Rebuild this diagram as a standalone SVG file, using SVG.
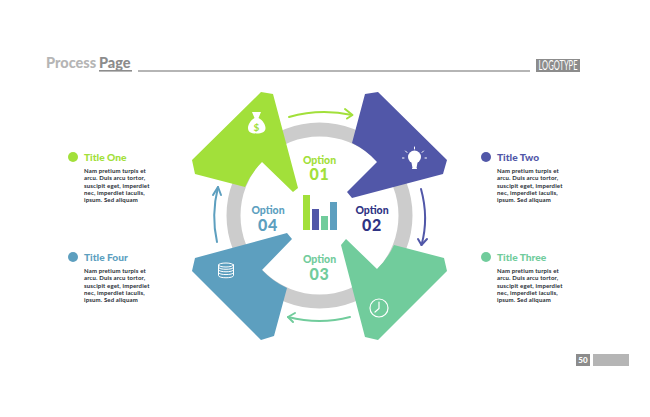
<svg xmlns="http://www.w3.org/2000/svg" width="650" height="417" viewBox="0 0 650 417">
<style>
text{font-family:Lato,"Open Sans","Liberation Sans",sans-serif}
.opt{font-size:10.5px;font-weight:900;text-anchor:middle}
.num{font-size:16px;font-weight:900;text-anchor:middle;letter-spacing:.8px}
.ttl{font-size:10.2px;font-weight:900}
.body{font-size:6px;font-weight:700;fill:#262b33;letter-spacing:.15px}
.arc{fill:none;stroke-width:2;stroke-linecap:round;stroke-linejoin:round}
.ico{fill:none;stroke:#fff;stroke-linecap:round}
</style>
<rect width="650" height="417" fill="#fff"/>
<g id="header">
<text x="46" y="68" font-size="14.5" font-weight="900" fill="#b5b5b5">Process</text>
<text x="99" y="68" font-size="14.5" font-weight="900" fill="#8c8c8c">Page</text>
<rect x="99" y="70" width="33" height="1.6" fill="#8c8c8c"/>
<rect x="138" y="70" width="392" height="2" fill="#b5b5b5"/>
<rect x="536" y="59" width="44" height="13" fill="#8c8c8c"/>
<text x="558" y="70" font-size="12.500" font-family="'Liberation Sans Narrow','Liberation Sans',sans-serif" fill="#fff" text-anchor="middle" textLength="39" lengthAdjust="spacingAndGlyphs">LOGOTYPE</text>
</g>
<g id="ring"><circle cx="319.500" cy="215.500" r="86" fill="none" stroke="#cccccc" stroke-width="14"/></g>
<g id="connectors">
<g class="arc" stroke="#a2e03a"><path d="M289 117Q320 108 352 115"/><path d="M345 109L352.500 115L347 118.500"/></g>
<g class="arc" stroke="#5157a8"><path d="M421 189Q429 218 421.500 245"/><path d="M418 239L421.500 245L427 239"/></g>
<g class="arc" stroke="#71cc9c"><path d="M350 317Q320 325 288 317"/><path d="M295 313L288 317L293 322"/></g>
<g class="arc" stroke="#5d9fbf"><path d="M217 242Q211 215 218 187"/><path d="M213 195L218 187L221 195"/></g>
</g>
<g id="node-1">
<path d="M261 92L273 94L298 188L293 192L262 162A79 79 0 0 0 245 187L195 174L192 160Z" fill="#a2e03a"/>
<path d="M252 112L261 112L258.500 118C263 120 265.500 125 265.500 128C265.500 132 262 133.500 256.500 133.500C251 133.500 248 132 248 128C248 125 250.500 120 254.500 118Z" fill="#fff"/>
<text x="256.500" y="130.500" font-size="10" font-weight="700" fill="#a2e03a" text-anchor="middle">$</text>
<text class="opt" x="319.500" y="163.500" fill="#a2e03a">Option</text>
<text class="num" x="319.500" y="180" fill="#a2e03a">01</text>
</g>
<g id="node-2">
<path d="M365 94L378 92L447 160L443 174L352 198L347 192L377 162A79 79 0 0 0 352 143Z" fill="#5157a8"/>
<circle cx="414.500" cy="157" r="6.500" fill="#fff"/>
<path d="M411.500 162.500H417.500L416.500 168H412.500Z" fill="#fff"/>
<path class="ico" d="M414.500 147V149M405.500 151L407 152.500M423.500 151L422 152.500M404 158H402.500M425 158H426.500M412.500 168.500H416.500" stroke-width="1"/>
<text class="opt" x="372" y="214" fill="#2f3384">Option</text>
<text class="num" x="372" y="231" fill="#2f3384">02</text>
</g>
<g id="node-3">
<path d="M346 239L377 269A79 79 0 0 0 394 245L444 258L447 271L378 340L365 337L341 245Z" fill="#71cc9c"/>
<circle cx="379" cy="308" r="9" class="ico" stroke-width="1.200"/>
<path class="ico" d="M379 302V308.500L375 312" stroke-width="1.200"/>
<text class="opt" x="319.500" y="263" fill="#71cc9c">Option</text>
<text class="num" x="319.500" y="280" fill="#71cc9c">03</text>
</g>
<g id="node-4">
<path d="M287 233L292 239L262 270A79 79 0 0 0 287 288L274 336L261 340L192 271L195 258Z" fill="#5d9fbf"/>
<g class="ico" stroke-width="1"><ellipse cx="226" cy="265" rx="7.500" ry="2"/><path d="M218.500 265V275.500C218.500 278.500 233.500 278.500 233.500 275.500V265M218.500 267.500C218.500 270 233.500 270 233.500 267.500M218.500 270C218.500 272.500 233.500 272.500 233.500 270M218.500 272.800C218.500 275.300 233.500 275.300 233.500 272.800"/></g>
<text class="opt" x="268" y="214" fill="#5d9fbf">Option</text>
<text class="num" x="268" y="231" fill="#5d9fbf">04</text>
</g>
<g id="chart">
<rect x="303" y="195" width="7" height="35" fill="#a2e03a"/>
<rect x="312" y="209" width="7" height="21" fill="#5157a8"/>
<rect x="321" y="216" width="7" height="14" fill="#71cc9c"/>
<rect x="330" y="202" width="7" height="28" fill="#5d9fbf"/>
</g>
<g id="title-one">
<circle cx="73" cy="157" r="5" fill="#a2e03a"/>
<text class="ttl" x="84" y="161" fill="#a2e03a">Title One</text>
<text class="body"><tspan x="84" y="173">Nam pretium turpis et</tspan><tspan x="84" y="180.250">arcu. Duis arcu tortor,</tspan><tspan x="84" y="187.500">suscipit eget, imperdiet</tspan><tspan x="84" y="194.750">nec, imperdiet iaculis,</tspan><tspan x="84" y="202">ipsum. Sed aliquam</tspan></text>
</g>
<g id="title-two">
<circle cx="486" cy="157" r="5" fill="#5157a8"/>
<text class="ttl" x="497" y="161" fill="#5157a8">Title Two</text>
<text class="body"><tspan x="497" y="173">Nam pretium turpis et</tspan><tspan x="497" y="180.250">arcu. Duis arcu tortor,</tspan><tspan x="497" y="187.500">suscipit eget, imperdiet</tspan><tspan x="497" y="194.750">nec, imperdiet iaculis,</tspan><tspan x="497" y="202">ipsum. Sed aliquam</tspan></text>
</g>
<g id="title-three">
<circle cx="486" cy="257" r="5" fill="#71cc9c"/>
<text class="ttl" x="497" y="261" fill="#71cc9c">Title Three</text>
<text class="body"><tspan x="497" y="273">Nam pretium turpis et</tspan><tspan x="497" y="280.250">arcu. Duis arcu tortor,</tspan><tspan x="497" y="287.500">suscipit eget, imperdiet</tspan><tspan x="497" y="294.750">nec, imperdiet iaculis,</tspan><tspan x="497" y="302">ipsum. Sed aliquam</tspan></text>
</g>
<g id="title-four">
<circle cx="73" cy="257" r="5" fill="#5d9fbf"/>
<text class="ttl" x="84" y="261" fill="#5d9fbf">Title Four</text>
<text class="body"><tspan x="84" y="273">Nam pretium turpis et</tspan><tspan x="84" y="280.250">arcu. Duis arcu tortor,</tspan><tspan x="84" y="287.500">suscipit eget, imperdiet</tspan><tspan x="84" y="294.750">nec, imperdiet iaculis,</tspan><tspan x="84" y="302">ipsum. Sed aliquam</tspan></text>
</g>
<g id="footer">
<rect x="576" y="354" width="14" height="12" fill="#8c8c8c"/>
<text x="583" y="363" font-size="8" font-weight="900" fill="#fff" text-anchor="middle">50</text>
<rect x="593" y="354" width="36" height="12" fill="#b5b5b5"/>
</g>
</svg>
